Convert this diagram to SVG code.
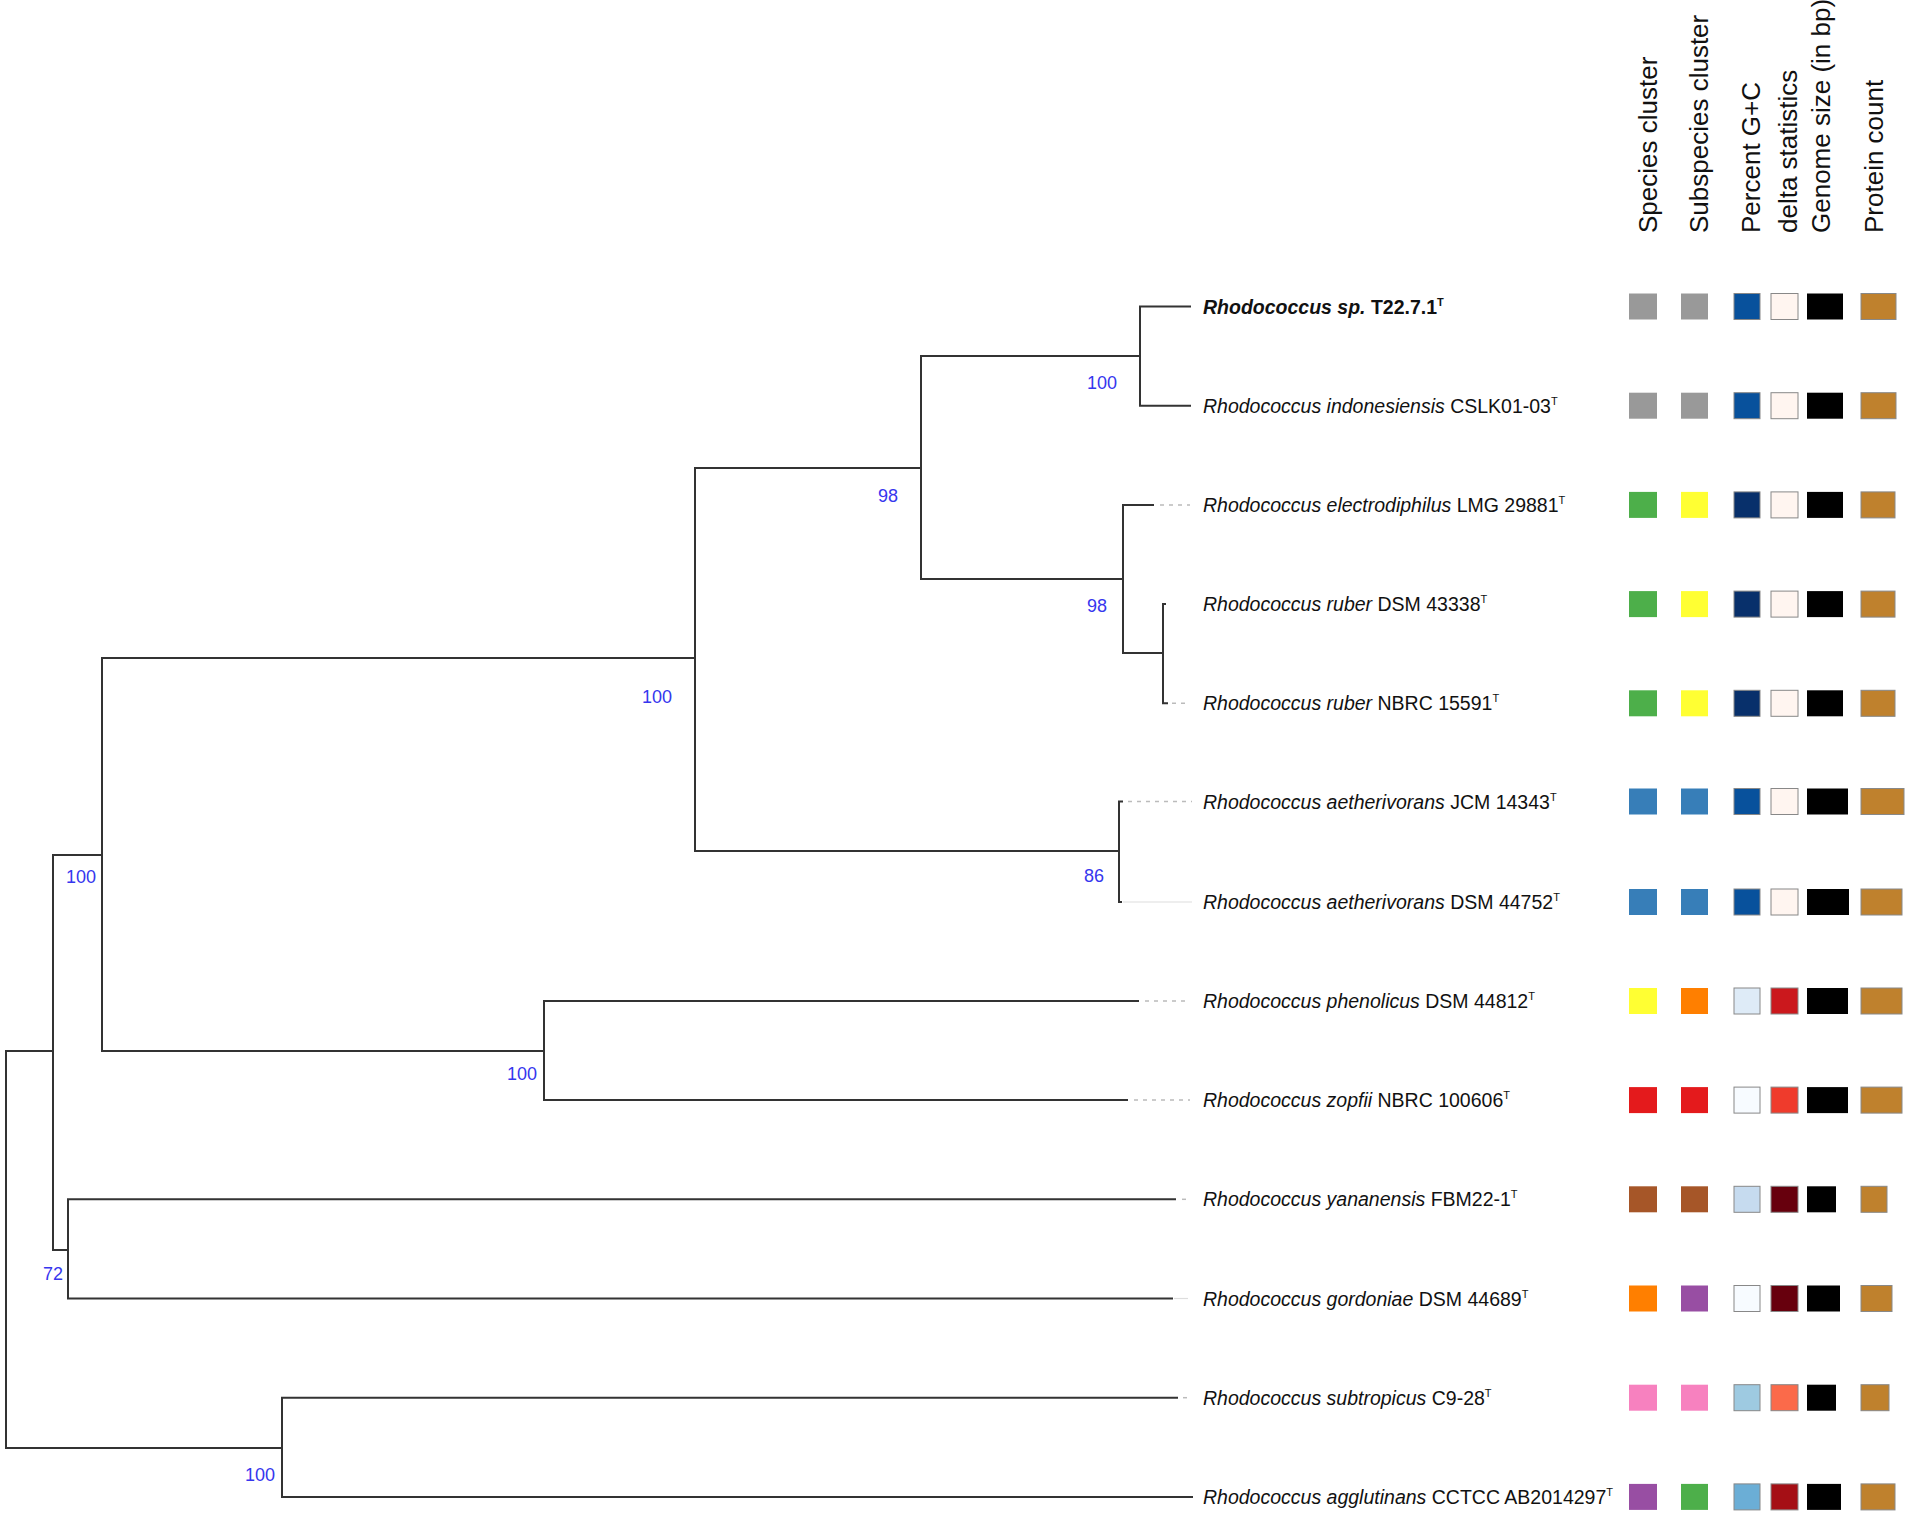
<svg xmlns="http://www.w3.org/2000/svg" width="1908" height="1515" viewBox="0 0 1908 1515">
<style>
  .br{stroke:#333;stroke-width:2;fill:none;stroke-linecap:square}
  .dl{stroke:#bbb;stroke-width:1.5;stroke-dasharray:4 5;fill:none}
  .fl{stroke:#ddd;stroke-width:1.2;fill:none}
  .bs{font-family:"Liberation Sans",Arial,sans-serif;font-size:18px;fill:#3636ee;text-anchor:middle}
  .lb{font-family:"Liberation Sans",Arial,sans-serif;font-size:19.5px;fill:#111}
  .it{font-style:italic}
  .bd{font-weight:bold}
  .sup{font-size:11px}
  .hd{font-family:"Liberation Sans",Arial,sans-serif;font-size:26px;fill:#111}
  .sq{stroke:none}
  .ol{stroke:#888;stroke-width:1}
</style>
<rect width="1908" height="1515" fill="#fff"/>

<g id="connectors">
  <path class="br" d="M6,1051 V1448 M6,1051 H53 M6,1448 H282"/>
  <path class="br" d="M53,855 V1250 M53,855 H102 M53,1250 H68"/>
  <path class="br" d="M102,658 V1051 M102,658 H695 M102,1051 H544"/>
  <path class="br" d="M695,468 V851 M695,468 H921 M695,851 H1119"/>
  <path class="br" d="M921,356 V579 M921,356 H1140 M921,579 H1123"/>
  <path class="br" d="M1140,306.5 V405.7 M1140,306.5 H1190 M1140,405.7 H1190"/>
  <path class="br" d="M1123,504.9 V653 M1123,504.9 H1153 M1123,653 H1163"/>
  <path class="dl" d="M1160,504.9 H1190"/>
  <path class="br" d="M1163,604.1 V703.3 M1163,604.1 H1165 M1163,703.3 H1167"/>
  <path class="dl" d="M1172,703.3 H1190"/>
  <path class="br" d="M1119,801.5 V902 M1119,801.5 H1122 M1119,902 H1121"/>
  <path class="dl" d="M1128,801.5 H1192"/>
  <path class="fl" d="M1123,902 H1192"/>
  <path class="br" d="M544,1001 V1100.1 M544,1001 H1138 M544,1100.1 H1127"/>
  <path class="dl" d="M1145,1001 H1190 M1134,1100.1 H1190"/>
  <path class="br" d="M68,1199.3 V1298.5 M68,1199.3 H1175 M68,1298.5 H1172"/>
  <path class="dl" d="M1182,1199.3 H1190"/>
  <path class="fl" d="M1174,1298.5 H1188"/>
  <path class="br" d="M282,1397.7 V1496.9 M282,1397.7 H1177 M282,1496.9 H1192"/>
  <path class="dl" d="M1183,1397.7 H1190"/>
</g>

<g id="bootstrap">
  <text class="bs" x="1102" y="389">100</text>
  <text class="bs" x="888" y="502">98</text>
  <text class="bs" x="1097" y="612">98</text>
  <text class="bs" x="657" y="703">100</text>
  <text class="bs" x="1094" y="882">86</text>
  <text class="bs" x="81" y="883">100</text>
  <text class="bs" x="522" y="1080">100</text>
  <text class="bs" x="53" y="1280">72</text>
  <text class="bs" x="260" y="1481">100</text>
</g>

<g id="headers">
  <text class="hd" transform="translate(1657,233) rotate(-90)">Species cluster</text>
  <text class="hd" transform="translate(1708,233) rotate(-90)">Subspecies cluster</text>
  <text class="hd" transform="translate(1760,233) rotate(-90)">Percent G+C</text>
  <text class="hd" transform="translate(1797,233) rotate(-90)">delta statistics</text>
  <text class="hd" transform="translate(1830,233) rotate(-90)">Genome size (in bp)</text>
  <text class="hd" transform="translate(1883,233) rotate(-90)">Protein count</text>
</g>

<g id="node-t22">
  <text class="lb bd" x="1203" y="313.5"><tspan class="it">Rhodococcus sp.</tspan> T22.7.1<tspan class="sup" dy="-8">T</tspan></text>
  <rect class="sq" x="1629" y="293.5" width="28" height="26" fill="#999999"/>
  <rect class="sq" x="1681" y="293.5" width="27" height="26" fill="#999999"/>
  <rect class="ol" x="1734" y="293.5" width="26" height="26" fill="#08519C"/>
  <rect class="ol" x="1771" y="293.5" width="27" height="26" fill="#FFF5F0"/>
  <rect class="sq" x="1807" y="293.5" width="36" height="26" fill="#000"/>
  <rect class="ol" x="1861" y="293.5" width="35" height="26" fill="#BF812D"/>
</g>

<g id="node-indonesiensis">
  <text class="lb" x="1203" y="412.7"><tspan class="it">Rhodococcus indonesiensis</tspan> CSLK01-03<tspan class="sup" dy="-8">T</tspan></text>
  <rect class="sq" x="1629" y="392.7" width="28" height="26" fill="#999999"/>
  <rect class="sq" x="1681" y="392.7" width="27" height="26" fill="#999999"/>
  <rect class="ol" x="1734" y="392.7" width="26" height="26" fill="#08519C"/>
  <rect class="ol" x="1771" y="392.7" width="27" height="26" fill="#FFF5F0"/>
  <rect class="sq" x="1807" y="392.7" width="36" height="26" fill="#000"/>
  <rect class="ol" x="1861" y="392.7" width="35" height="26" fill="#BF812D"/>
</g>

<g id="node-electrodiphilus">
  <text class="lb" x="1203" y="511.9"><tspan class="it">Rhodococcus electrodiphilus</tspan> LMG 29881<tspan class="sup" dy="-8">T</tspan></text>
  <rect class="sq" x="1629" y="491.9" width="28" height="26" fill="#4DAF4A"/>
  <rect class="sq" x="1681" y="491.9" width="27" height="26" fill="#FFFF33"/>
  <rect class="ol" x="1734" y="491.9" width="26" height="26" fill="#08306B"/>
  <rect class="ol" x="1771" y="491.9" width="27" height="26" fill="#FFF5F0"/>
  <rect class="sq" x="1807" y="491.9" width="36" height="26" fill="#000"/>
  <rect class="ol" x="1861" y="491.9" width="34" height="26" fill="#BF812D"/>
</g>

<g id="node-ruber-dsm">
  <text class="lb" x="1203" y="611.1"><tspan class="it">Rhodococcus ruber</tspan> DSM 43338<tspan class="sup" dy="-8">T</tspan></text>
  <rect class="sq" x="1629" y="591.1" width="28" height="26" fill="#4DAF4A"/>
  <rect class="sq" x="1681" y="591.1" width="27" height="26" fill="#FFFF33"/>
  <rect class="ol" x="1734" y="591.1" width="26" height="26" fill="#08306B"/>
  <rect class="ol" x="1771" y="591.1" width="27" height="26" fill="#FFF5F0"/>
  <rect class="sq" x="1807" y="591.1" width="36" height="26" fill="#000"/>
  <rect class="ol" x="1861" y="591.1" width="34" height="26" fill="#BF812D"/>
</g>

<g id="node-ruber-nbrc">
  <text class="lb" x="1203" y="710.3"><tspan class="it">Rhodococcus ruber</tspan> NBRC 15591<tspan class="sup" dy="-8">T</tspan></text>
  <rect class="sq" x="1629" y="690.3" width="28" height="26" fill="#4DAF4A"/>
  <rect class="sq" x="1681" y="690.3" width="27" height="26" fill="#FFFF33"/>
  <rect class="ol" x="1734" y="690.3" width="26" height="26" fill="#08306B"/>
  <rect class="ol" x="1771" y="690.3" width="27" height="26" fill="#FFF5F0"/>
  <rect class="sq" x="1807" y="690.3" width="36" height="26" fill="#000"/>
  <rect class="ol" x="1861" y="690.3" width="34" height="26" fill="#BF812D"/>
</g>

<g id="node-aetherivorans-jcm">
  <text class="lb" x="1203" y="808.5"><tspan class="it">Rhodococcus aetherivorans</tspan> JCM 14343<tspan class="sup" dy="-8">T</tspan></text>
  <rect class="sq" x="1629" y="788.5" width="28" height="26" fill="#377EB8"/>
  <rect class="sq" x="1681" y="788.5" width="27" height="26" fill="#377EB8"/>
  <rect class="ol" x="1734" y="788.5" width="26" height="26" fill="#08519C"/>
  <rect class="ol" x="1771" y="788.5" width="27" height="26" fill="#FFF5F0"/>
  <rect class="sq" x="1807" y="788.5" width="41" height="26" fill="#000"/>
  <rect class="ol" x="1861" y="788.5" width="43" height="26" fill="#BF812D"/>
</g>

<g id="node-aetherivorans-dsm">
  <text class="lb" x="1203" y="909"><tspan class="it">Rhodococcus aetherivorans</tspan> DSM 44752<tspan class="sup" dy="-8">T</tspan></text>
  <rect class="sq" x="1629" y="889" width="28" height="26" fill="#377EB8"/>
  <rect class="sq" x="1681" y="889" width="27" height="26" fill="#377EB8"/>
  <rect class="ol" x="1734" y="889" width="26" height="26" fill="#08519C"/>
  <rect class="ol" x="1771" y="889" width="27" height="26" fill="#FFF5F0"/>
  <rect class="sq" x="1807" y="889" width="42" height="26" fill="#000"/>
  <rect class="ol" x="1861" y="889" width="41" height="26" fill="#BF812D"/>
</g>

<g id="node-phenolicus">
  <text class="lb" x="1203" y="1008"><tspan class="it">Rhodococcus phenolicus</tspan> DSM 44812<tspan class="sup" dy="-8">T</tspan></text>
  <rect class="sq" x="1629" y="988" width="28" height="26" fill="#FFFF33"/>
  <rect class="sq" x="1681" y="988" width="27" height="26" fill="#FF7F00"/>
  <rect class="ol" x="1734" y="988" width="26" height="26" fill="#DEEBF7"/>
  <rect class="ol" x="1771" y="988" width="27" height="26" fill="#CB181D"/>
  <rect class="sq" x="1807" y="988" width="41" height="26" fill="#000"/>
  <rect class="ol" x="1861" y="988" width="41" height="26" fill="#BF812D"/>
</g>

<g id="node-zopfii">
  <text class="lb" x="1203" y="1107.1"><tspan class="it">Rhodococcus zopfii</tspan> NBRC 100606<tspan class="sup" dy="-8">T</tspan></text>
  <rect class="sq" x="1629" y="1087.1" width="28" height="26" fill="#E41A1C"/>
  <rect class="sq" x="1681" y="1087.1" width="27" height="26" fill="#E41A1C"/>
  <rect class="ol" x="1734" y="1087.1" width="26" height="26" fill="#F7FBFF"/>
  <rect class="ol" x="1771" y="1087.1" width="27" height="26" fill="#EF3B2C"/>
  <rect class="sq" x="1807" y="1087.1" width="41" height="26" fill="#000"/>
  <rect class="ol" x="1861" y="1087.1" width="41" height="26" fill="#BF812D"/>
</g>

<g id="node-yananensis">
  <text class="lb" x="1203" y="1206.3"><tspan class="it">Rhodococcus yananensis</tspan> FBM22-1<tspan class="sup" dy="-8">T</tspan></text>
  <rect class="sq" x="1629" y="1186.3" width="28" height="26" fill="#A65628"/>
  <rect class="sq" x="1681" y="1186.3" width="27" height="26" fill="#A65628"/>
  <rect class="ol" x="1734" y="1186.3" width="26" height="26" fill="#C6DBEF"/>
  <rect class="ol" x="1771" y="1186.3" width="27" height="26" fill="#67000D"/>
  <rect class="sq" x="1807" y="1186.3" width="29" height="26" fill="#000"/>
  <rect class="ol" x="1861" y="1186.3" width="26" height="26" fill="#BF812D"/>
</g>

<g id="node-gordoniae">
  <text class="lb" x="1203" y="1305.5"><tspan class="it">Rhodococcus gordoniae</tspan> DSM 44689<tspan class="sup" dy="-8">T</tspan></text>
  <rect class="sq" x="1629" y="1285.5" width="28" height="26" fill="#FF7F00"/>
  <rect class="sq" x="1681" y="1285.5" width="27" height="26" fill="#984EA3"/>
  <rect class="ol" x="1734" y="1285.5" width="26" height="26" fill="#F7FBFF"/>
  <rect class="ol" x="1771" y="1285.5" width="27" height="26" fill="#67000D"/>
  <rect class="sq" x="1807" y="1285.5" width="33" height="26" fill="#000"/>
  <rect class="ol" x="1861" y="1285.5" width="31" height="26" fill="#BF812D"/>
</g>

<g id="node-subtropicus">
  <text class="lb" x="1203" y="1404.7"><tspan class="it">Rhodococcus subtropicus</tspan> C9-28<tspan class="sup" dy="-8">T</tspan></text>
  <rect class="sq" x="1629" y="1384.7" width="28" height="26" fill="#F781BF"/>
  <rect class="sq" x="1681" y="1384.7" width="27" height="26" fill="#F781BF"/>
  <rect class="ol" x="1734" y="1384.7" width="26" height="26" fill="#9ECAE1"/>
  <rect class="ol" x="1771" y="1384.7" width="27" height="26" fill="#FB6A4A"/>
  <rect class="sq" x="1807" y="1384.7" width="29" height="26" fill="#000"/>
  <rect class="ol" x="1861" y="1384.7" width="28" height="26" fill="#BF812D"/>
</g>

<g id="node-agglutinans">
  <text class="lb" x="1203" y="1503.9"><tspan class="it">Rhodococcus agglutinans</tspan> CCTCC AB2014297<tspan class="sup" dy="-8">T</tspan></text>
  <rect class="sq" x="1629" y="1483.9" width="28" height="26" fill="#984EA3"/>
  <rect class="sq" x="1681" y="1483.9" width="27" height="26" fill="#4DAF4A"/>
  <rect class="ol" x="1734" y="1483.9" width="26" height="26" fill="#6BAED6"/>
  <rect class="ol" x="1771" y="1483.9" width="27" height="26" fill="#A50F15"/>
  <rect class="sq" x="1807" y="1483.9" width="34" height="26" fill="#000"/>
  <rect class="ol" x="1861" y="1483.9" width="34" height="26" fill="#BF812D"/>
</g>
</svg>
